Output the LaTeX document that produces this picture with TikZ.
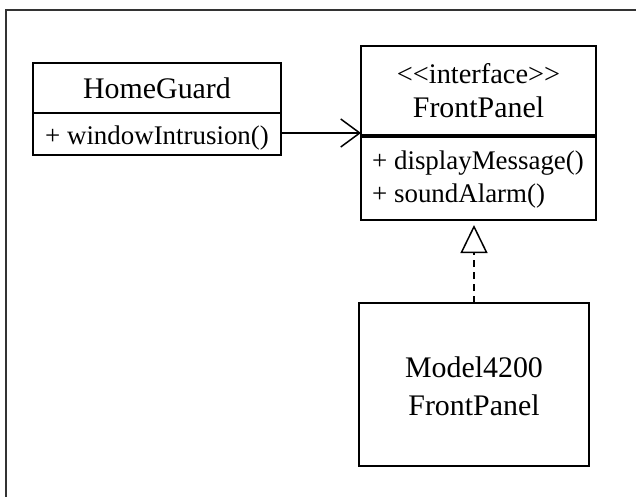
\documentclass[tikz,border=0pt]{standalone}
\usepackage{fontspec}
\setmainfont{Liberation Serif}
\usetikzlibrary{arrows.meta}
\begin{document}
\begin{tikzpicture}[x=1bp,y=-1bp,
  box/.style={draw, line width=2bp, inner sep=0pt, outer sep=0pt, anchor=north west},
  divider/.style={line width=2.5bp},
  classname/.style={font=\fontsize{30}{36}\selectfont, anchor=base, inner sep=0pt},
  stereo/.style={font=\fontsize{28.5}{34}\selectfont, anchor=base, inner sep=0pt},
  member/.style={font=\fontsize{27}{32}\selectfont, anchor=base west, inner sep=0pt},
  assoc/.style={line width=1.5bp, -{Straight Barb[length=19bp, width=28bp, line width=1.5bp]}},
  realize/.style={line width=1.5bp, dash pattern=on 7bp off 5bp,
    -{Triangle[open, length=28bp, width=27bp, line width=1.5bp, fill=white]}},
]
\useasboundingbox (0,0) rectangle (636,497);

% diagram frame (top and left edges)
\draw[line width=2.5bp, black!80] (6,497) -- (6,10) -- (636,10);

% HomeGuard class
\node[box, minimum width=248bp, minimum height=92bp] (hg) at (33,63) {};
\draw[divider] (hg.west |- 0,113) -- (hg.east |- 0,113);
\node[classname] (hgname) at (157,99) {HomeGuard};
\node[member] (hgop) at (45,145) {+ windowIntrusion()};

% FrontPanel interface
\node[box, minimum width=235bp, minimum height=174bp] (fp) at (361,46) {};
\draw[line width=3.5bp] (fp.west |- 0,136) -- (fp.east |- 0,136);
\node[stereo] (fpstereo) at (478.5,84) {<\kern0pt<interface>\kern0pt>};
\node[classname] (fpname) at (478.5,118) {FrontPanel};
\node[member] (fpop1) at (372,170) {+ displayMessage()};
\node[member] (fpop2) at (372,203) {+ soundAlarm()};

% Model4200FrontPanel class
\node[box, minimum width=230bp, minimum height=163bp] (mf) at (359,303) {};
\node[classname] (mfname1) at (474,377) {Model4200};
\node[classname] (mfname2) at (474,415) {FrontPanel};

% association HomeGuard -> FrontPanel
\coordinate (assocy) at (0,133);
\draw[assoc] (hg.east |- assocy) -- (fp.west |- assocy);

% realization Model4200FrontPanel -> FrontPanel
\draw[realize, shorten >=5bp] (mf.north) -- (mf.north |- fp.south);
\end{tikzpicture}
\end{document}
